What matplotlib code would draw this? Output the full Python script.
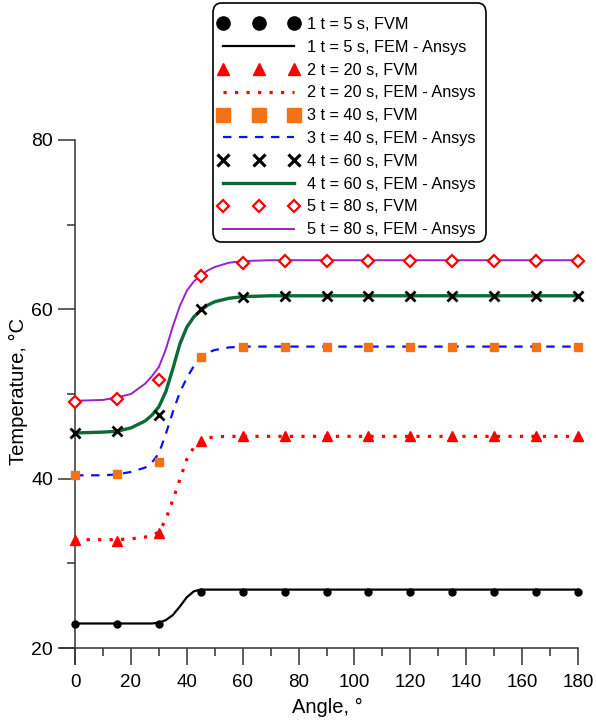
import matplotlib
matplotlib.use('Agg')
import matplotlib.pyplot as plt
from matplotlib.lines import Line2D
from matplotlib.patches import FancyBboxPatch
from matplotlib.ticker import MultipleLocator

plt.rcParams['font.family'] = ['Liberation Sans', 'DejaVu Sans']

# FVM points (every 15 deg)
angle_fvm = [0, 15, 30, 45, 60, 75, 90, 105, 120, 135, 150, 165, 180]
fvm_5 = [22.8, 22.8, 22.8, 26.65, 26.65, 26.65, 26.65, 26.65, 26.65, 26.65, 26.65, 26.65, 26.65]
fvm_20 = [32.75, 32.7, 33.6, 44.4, 45.0, 45.0, 45.0, 45.0, 45.0, 45.0, 45.0, 45.0, 45.0]
fvm_40 = [40.4, 40.5, 42.0, 54.4, 55.6, 55.6, 55.6, 55.6, 55.6, 55.6, 55.6, 55.6, 55.6]
fvm_60 = [45.4, 45.6, 47.5, 60.0, 61.5, 61.6, 61.6, 61.6, 61.6, 61.6, 61.6, 61.6, 61.6]
fvm_80 = [49.1, 49.4, 51.7, 63.9, 65.5, 65.75, 65.75, 65.75, 65.75, 65.75, 65.75, 65.75, 65.75]

# FEM - Ansys curves
angle_fem = [0, 10, 15, 20, 25, 27.5, 30, 32.5, 35, 37.5, 40, 42.5, 45, 47.5, 50, 55, 60, 70, 180]
fem_5 = [22.9, 22.9, 22.9, 22.9, 22.9, 22.9, 23.0, 23.3, 23.9, 24.9, 26.0, 26.7, 26.9, 26.9, 26.9, 26.9, 26.9, 26.9, 26.9]
fem_20 = [32.8, 32.8, 32.8, 32.9, 33.1, 33.3, 33.7, 35.2, 37.5, 39.9, 42.3, 43.7, 44.4, 44.8, 44.95, 45.0, 45.0, 45.0, 45.0]
fem_40 = [40.4, 40.4, 40.5, 40.8, 41.3, 41.9, 43.0, 45.3, 47.9, 50.2, 51.9, 53.3, 54.3, 54.9, 55.2, 55.5, 55.6, 55.6, 55.6]
fem_60 = [45.4, 45.5, 45.6, 46.0, 46.8, 47.5, 48.5, 50.3, 53.0, 55.9, 57.9, 59.1, 59.9, 60.5, 60.9, 61.3, 61.5, 61.6, 61.6]
fem_80 = [49.2, 49.3, 49.6, 50.0, 51.2, 52.1, 53.2, 55.3, 58.0, 60.4, 62.2, 63.3, 64.0, 64.6, 65.0, 65.5, 65.7, 65.8, 65.8]

labels = ['1 t = 5 s, FVM', '1 t = 5 s, FEM - Ansys',
          '2 t = 20 s, FVM', '2 t = 20 s, FEM - Ansys',
          '3 t = 40 s, FVM', '3 t = 40 s, FEM - Ansys',
          '4 t = 60 s, FVM', '4 t = 60 s, FEM - Ansys',
          '5 t = 80 s, FVM', '5 t = 80 s, FEM - Ansys']

fig = plt.figure(figsize=(5.96, 7.2), dpi=100)
ax = fig.add_axes([0.1007, 0.0776, 0.8924, 0.7515])

# FEM lines
ax.plot(angle_fem, fem_5, color='black', lw=1.6, zorder=2)
ax.plot(angle_fem, fem_20, color='red', lw=2.3, ls=(0, (1, 2.6)), zorder=2)
ax.plot(angle_fem, fem_40, color='#1010ee', lw=1.6, ls=(0, (3.8, 3.4)), zorder=2)
ax.plot(angle_fem, fem_60, color='#0b6a35', lw=2.4, zorder=2)
ax.plot(angle_fem, fem_80, color='#9922cc', lw=1.4, zorder=2)

# FVM markers
ax.plot(angle_fvm, fvm_5, ls='none', marker='o', ms=5, color='black', zorder=3)
ax.plot(angle_fvm, fvm_20, ls='none', marker='^', ms=7, color='red', zorder=3)
ax.plot(angle_fvm, fvm_40, ls='none', marker='s', ms=6, color='#f47116', zorder=3)
ax.plot(angle_fvm, fvm_60, ls='none', marker='x', ms=7, mew=2, color='black', zorder=3)
ax.plot(angle_fvm, fvm_80, ls='none', marker='D', ms=6, mew=1.6, mfc='white', mec='red', zorder=3)

ax.set_xlim(-5.4, 185)
ax.set_ylim(18.1, 82)
for s in ['top', 'right']:
    ax.spines[s].set_visible(False)
ax.spines['left'].set_position(('data', 0))
ax.spines['bottom'].set_position(('data', 20))
ax.spines['left'].set_bounds(18.1, 80)
ax.spines['bottom'].set_bounds(-5.4, 180)
for s in ['left', 'bottom']:
    ax.spines[s].set_color('#333333')
    ax.spines[s].set_linewidth(1.1)

ax.set_xticks(range(0, 181, 20))
ax.set_yticks([20, 40, 60, 80])
ax.xaxis.set_minor_locator(MultipleLocator(10))
ax.yaxis.set_minor_locator(MultipleLocator(10))
ax.tick_params(which='major', length=12, width=1.1, color='#333333', direction='out')
ax.tick_params(which='minor', length=6, width=1.1, color='#333333', direction='out')
ax.tick_params(axis='x', which='major', pad=7, labelsize=13.5)
ax.tick_params(axis='y', which='major', pad=4, labelsize=14)

fig.text(327 / 596, 1 - 707 / 720, 'Angle, \u00b0', ha='center', va='center', fontsize=14.5)
fig.text(18 / 596, 1 - 391 / 720, 'Temperature, \u00b0C', ha='center', va='center',
         rotation=90, fontsize=14.5)

handles = [
    Line2D([], [], ls='none', marker='o', ms=9.5, color='black'),
    Line2D([], [], color='black', lw=1.6),
    Line2D([], [], ls='none', marker='^', ms=8.5, color='red'),
    Line2D([], [], color='red', lw=2.3, ls=(0, (1, 2.6))),
    Line2D([], [], ls='none', marker='s', ms=10, color='#f47116'),
    Line2D([], [], color='#1010ee', lw=1.6, ls=(0, (3.8, 3.4))),
    Line2D([], [], ls='none', marker='x', ms=8.5, mew=2.3, color='black'),
    Line2D([], [], color='#0b6a35', lw=2.4),
    Line2D([], [], ls='none', marker='D', ms=6.5, mew=1.6, mfc='white', mec='red'),
    Line2D([], [], color='#9922cc', lw=1.4),
]

# legend frame drawn separately (more room at the top than at the sides)
frame = FancyBboxPatch((213 / 596, 1 - 242 / 720), (486 - 213) / 596, 239 / 720,
                       boxstyle='round,pad=0,rounding_size=0.014',
                       transform=fig.transFigure, fc='white', ec='black', lw=1.2, zorder=5)
fig.patches.append(frame)

leg = fig.legend(handles, labels, loc='upper left', bbox_to_anchor=(218 / 596, 1 - 17 / 720),
                 bbox_transform=fig.transFigure, borderaxespad=0, borderpad=0, numpoints=3,
                 fontsize=11.7, handlelength=5.0, handletextpad=0.5, labelspacing=0.48,
                 frameon=False)
leg.set_zorder(6)

plt.savefig('out.png', dpi=100)
